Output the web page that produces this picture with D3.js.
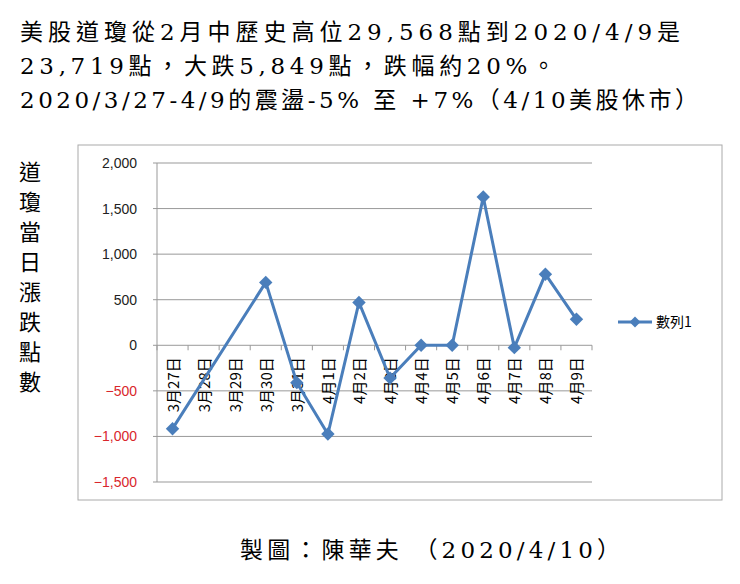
<!DOCTYPE html>
<html><head><meta charset="utf-8">
<script src="https://cdn.jsdelivr.net/npm/d3@7"></script>
<style>body{margin:0;background:#fff}</style></head>
<body><svg id="c" width="740" height="584"></svg>
<script>
var dates = ["3月27日","3月28日","3月29日","3月30日","3月31日","4月1日","4月2日","4月3日","4月4日","4月5日","4月6日","4月7日","4月8日","4月9日"];
var values = [-915, null, null, 690, -410, -974, 470, -360, 0, 0, 1627, -26, 780, 285];
var yTicks = [2000, 1500, 1000, 500, 0, -500, -1000, -1500];

var svg = d3.select("#c");
var cjk = "'Noto Sans CJK TC', sans-serif";
var serif = "'DejaVu Serif', 'Noto Sans CJK TC', serif";

// titles (widths)
var titles = ["美股道瓊從2月中歷史高位29,568點到2020/4/9是", "23,719點，大跌5,849點，跌幅約20%。", "2020/3/27-4/9的震盪-5% 至 +7%（4/10美股休市）"];
var titleWidths = [660, 535, 678];
svg.selectAll("text.t").data(titles).enter().append("text")
    .attr("x", 20).attr("y", function(d, i){ return 40 + i * 34; })
    .attr("textLength", function(d, i){ return titleWidths[i]; }).attr("lengthAdjust", "spacing")
    .style("font-family", serif).style("font-size", "23px").text(function(d){ return d; });

// vertical label
svg.selectAll("text.v").data("道瓊當日漲跌點數".split("")).enter().append("text")
    .attr("x", 30).attr("y", function(d, i){ return 180 + i * 30; })
    .attr("text-anchor", "middle")
    .style("font-family", cjk).style("font-size", "22px").text(function(d){ return d; });

// chart box
svg.append("rect").attr("x", 78).attr("y", 145).attr("width", 644).attr("height", 355)
    .attr("fill", "none").attr("stroke", "#aaa");

var x = d3.scaleBand().domain(dates).range([157, 592]);
var y = d3.scaleLinear().domain([-1500, 2000]).range([482, 163]);

// gridlines
svg.selectAll("line.g").data(yTicks).enter().append("line")
    .attr("x1", 153).attr("x2", 592)
    .attr("y1", function(d){ return y(d); }).attr("y2", function(d){ return y(d); })
    .attr("stroke", "#999");
svg.append("line").attr("x1", 157).attr("x2", 157).attr("y1", 163).attr("y2", 482).attr("stroke", "#999");

svg.selectAll("text.yt").data(yTicks).enter().append("text")
    .attr("x", 137).attr("y", function(d){ return y(d) + 5; })
    .attr("text-anchor", "end").attr("fill", function(d){ return d < 0 ? "#d9262c" : "#222"; })
    .style("font-family", "Arial, 'Liberation Sans', sans-serif").style("font-size", "14px")
    .text(function(d){ return d3.format(",")(d); });

// x ticks on zero line
svg.selectAll("line.xt").data(dates.concat(["end"])).enter().append("line")
    .attr("x1", function(d, i){ return 157 + i * x.step(); })
    .attr("x2", function(d, i){ return 157 + i * x.step(); })
    .attr("y1", y(0)).attr("y2", y(0) + 5).attr("stroke", "#999");

svg.selectAll("text.xl").data(dates).enter().append("text")
    .attr("transform", function(d){ return "translate(" + (x(d) + x.bandwidth() / 2 + 6) + "," + (y(0) + 12) + ") rotate(-90)"; })
    .attr("text-anchor", "end")
    .style("font-family", cjk).style("font-size", "15px").text(function(d){ return d; });

var pts = dates.map(function(d, i){ return {d: d, v: values[i]}; }).filter(function(p){ return p.v !== null; });
var line = d3.line().x(function(p){ return x(p.d) + x.bandwidth() / 2; }).y(function(p){ return y(p.v); });
svg.append("path").datum(pts).attr("d", line).attr("fill", "none")
    .attr("stroke", "#4a7ebb").attr("stroke-width", 3);
svg.selectAll("path.m").data(pts).enter().append("path")
    .attr("d", d3.symbol(d3.symbolSquare, 90))
    .attr("transform", function(p){ return "translate(" + (x(p.d) + x.bandwidth() / 2) + "," + y(p.v) + ") rotate(45)"; })
    .attr("fill", "#4a7ebb");

// legend
svg.append("line").attr("x1", 618).attr("x2", 652).attr("y1", 322).attr("y2", 322).attr("stroke", "#4a7ebb").attr("stroke-width", 3);
svg.append("path").attr("d", d3.symbol(d3.symbolSquare, 60)).attr("transform", "translate(635,322) rotate(45)").attr("fill", "#4a7ebb");
svg.append("text").attr("x", 656).attr("y", 327).style("font-family", cjk).style("font-size", "14px").text("數列1");

// footer
svg.append("text").attr("x", 240).attr("y", 558).attr("textLength", 380).attr("lengthAdjust", "spacing")
    .style("font-family", serif).style("font-size", "23px").text("製圖：陳華夫 （2020/4/10）");
</script></body></html>
